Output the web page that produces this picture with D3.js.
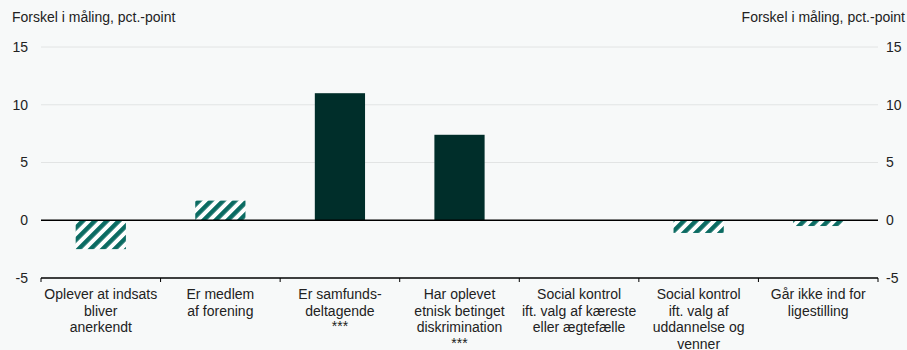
<!DOCTYPE html>
<html><head><meta charset="utf-8">
<script src="https://cdn.jsdelivr.net/npm/d3@7"></script>
<style>
html,body{margin:0;padding:0;background:#f7f9f9;}
svg{display:block;font-family:"Liberation Sans",Arial,sans-serif;}
</style></head>
<body><svg id="c" width="907" height="350"></svg>
<script>
const categories = [
  ["Oplever at indsats","bliver","anerkendt"],
  ["Er medlem","af forening"],
  ["Er samfunds-","deltagende","***"],
  ["Har oplevet","etnisk betinget","diskrimination","***"],
  ["Social kontrol","ift. valg af kæreste","eller ægtefælle"],
  ["Social kontrol","ift. valg af","uddannelse og","venner"],
  ["Går ikke ind for","ligestilling"]
];
const values = [-2.5, 1.7, 11.0, 7.4, 0, -1.1, -0.5];
const significant = [false, false, true, true, false, false, false];
const yTicks = [-5, 0, 5, 10, 15];
const axisTitle = "Forskel i måling, pct.-point";

const svg = d3.select("#c");
const FS = 14;
const L = 41, R = 878, T = 47, B = 278;
const x = d3.scaleBand().domain(d3.range(categories.length)).range([L, R]).paddingInner(0.58).paddingOuter(0.29);
const xb = d3.scaleBand().domain(d3.range(categories.length)).range([L, R]);
const y = d3.scaleLinear().domain([-5, 15]).range([B, T]);

const defs = svg.append("defs");
const pat = defs.append("pattern").attr("id","hatch").attr("patternUnits","userSpaceOnUse")
  .attr("width",8.5).attr("height",8.5).attr("patternTransform","rotate(45)");
pat.append("rect").attr("width",8.5).attr("height",8.5).attr("fill","#ffffff");
pat.append("rect").attr("width",4.5).attr("height",8.5).attr("fill","#0b6b62");

// gridlines
svg.append("g").selectAll("line").data(yTicks.filter(d=>d!==0 && d!==-5)).join("line")
  .attr("x1",L).attr("x2",R).attr("y1",d=>y(d)).attr("y2",d=>y(d))
  .attr("stroke","#e2e4e4").attr("stroke-width",1);

// tick labels
svg.append("g").selectAll("text").data(yTicks).join("text")
  .attr("x",28).attr("y",d=>y(d)).attr("dy","0.35em").attr("text-anchor","end")
  .attr("font-size",FS).attr("fill","#222").text(d=>d);
svg.append("g").selectAll("text").data(yTicks).join("text")
  .attr("x",886).attr("y",d=>y(d)).attr("dy","0.35em").attr("text-anchor","start")
  .attr("font-size",FS).attr("fill","#222").text(d=>d);

svg.append("text").attr("x",12).attr("y",22).attr("font-size",FS).attr("fill","#222").text(axisTitle);
svg.append("text").attr("x",905).attr("y",22).attr("text-anchor","end").attr("font-size",FS).attr("fill","#222").text(axisTitle);

// bars
svg.append("g").selectAll("rect").data(values).join("rect")
  .attr("x",(d,i)=>x(i)).attr("width",x.bandwidth())
  .attr("y",d=>y(Math.max(0,d))).attr("height",d=>Math.abs(y(d)-y(0)))
  .attr("fill",(d,i)=>significant[i] ? "#002e2a" : "url(#hatch)");

// zero line
svg.append("line").attr("x1",L).attr("x2",R).attr("y1",y(0)).attr("y2",y(0)).attr("stroke","#000").attr("stroke-width",1.3);

// bottom axis
const ax = svg.append("g");
ax.append("line").attr("x1",L).attr("x2",R).attr("y1",B).attr("y2",B).attr("stroke","#000").attr("stroke-width",1.3);
ax.selectAll("line.t").data(d3.range(categories.length+1)).join("line").attr("class","t")
  .attr("x1",i=>L + i*xb.bandwidth()).attr("x2",i=>L + i*xb.bandwidth())
  .attr("y1",B).attr("y2",B+4).attr("stroke","#000").attr("stroke-width",1);

// category labels
const lab = svg.append("g").selectAll("text").data(categories).join("text")
  .attr("text-anchor","middle").attr("font-size",FS).attr("fill","#222")
  .attr("transform",(d,i)=>`translate(${xb(i)+xb.bandwidth()/2},${B+21})`);
lab.each(function(lines){
  const t = d3.select(this);
  let yy = 0;
  lines.forEach((ln)=>{
    const star = ln === "***";
    t.append("tspan").attr("x",0).attr("y",star ? yy-1 : yy).text(ln);
    yy += 16.5;
  });
});
</script></body></html>
